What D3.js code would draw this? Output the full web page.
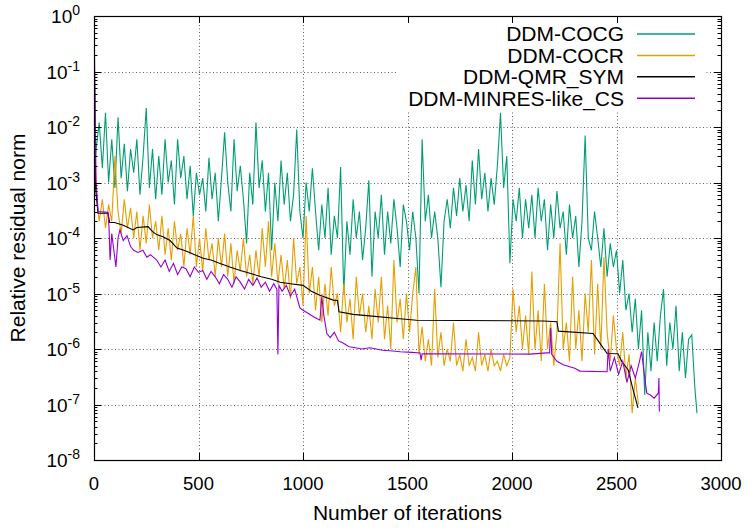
<!DOCTYPE html>
<html>
<head>
<meta charset="utf-8">
<script src="https://cdn.jsdelivr.net/npm/d3@7"></script>
<style>
  body { margin: 0; background: #fff; }
  text { font-family: "Liberation Sans", Arial, Helvetica, sans-serif; fill: #000; }
</style>
</head>
<body>
<div id="chart"></div>
<script>
// ---- data ----
const seriesNames = ["DDM-COCG", "DDM-COCR", "DDM-QMR_SYM", "DDM-MINRES-like_CS"];
const seriesColors = ["#009e73", "#e69f00", "#000000", "#9400d3"];

const xTicks = [0, 500, 1000, 1500, 2000, 2500, 3000];
const yExponents = [0, -1, -2, -3, -4, -5, -6, -7, -8];

// COCG: first iterations, then samples every 15 iterations starting at 10
const cocgHead = [[0, 0.8], [4, 2e-2], [8, 3e-3]];
const cocgStart = 10, cocgStep = 15;
const cocgVals = [
  4e-3, 1.2e-2, 1.8e-3, 1.8e-2, 1e-3, 6e-3, 8e-4, 1.5e-2, 1.2e-3, 5e-3,
  7e-4, 4e-3, 1.5e-3, 6e-3, 6e-4, 3e-3, 2.2e-2, 8e-4, 4e-3, 5e-4,
  3e-3, 6e-4, 6e-3, 1e-3, 2.5e-3, 4e-4, 6e-3, 1.2e-3, 3e-3, 5e-4,
  2e-3, 2.5e-4, 1.5e-3, 6e-4, 1.2e-3, 3e-4, 2.8e-3, 5e-4, 1.5e-3, 2e-4,
  1.2e-3, 8e-3, 1e-3, 3e-4, 6e-3, 7e-4, 2e-3, 5e-4, 8e-5, 1.5e-3,
  4e-4, 1.2e-2, 8e-4, 2.5e-3, 3e-4, 1.5e-3, 6e-5, 1e-3, 2e-4, 2.5e-3,
  4e-4, 1.5e-3, 2e-4, 6e-4, 9e-3, 3e-4, 1e-4, 1e-3, 3e-4, 1.8e-3,
  3e-4, 6e-5, 4e-4, 1e-4, 8e-4, 5e-5, 2.5e-4, 1e-4, 1.9e-3, 1e-5,
  2e-4, 5e-5, 5e-4, 1e-4, 3e-4, 4e-5, 1.5e-4, 1.1e-3, 2e-5, 3e-4,
  1e-4, 6e-4, 5e-5, 3e-4, 8e-5, 5e-4, 1.5e-4, 3e-5, 4e-4, 2e-4,
  6e-5, 3e-4, 1e-4, 1e-5, 6e-3, 2e-4, 6e-4, 1e-4, 3e-4, 1e-4,
  1.3e-5, 2e-4, 5e-4, 1.5e-4, 8e-4, 2.5e-4, 1.2e-3, 3e-4, 9e-4, 2e-4,
  2.5e-3, 4e-4, 4e-3, 5e-4, 1.5e-3, 3e-4, 1.2e-3, 4e-4, 2e-3, 1.8e-2,
  8e-4, 3e-3, 3.5e-5, 5e-4, 2e-4, 8e-4, 1e-4, 5e-4, 1.5e-4, 6e-4,
  1e-4, 8e-4, 2e-4, 5e-4, 6e-5, 4e-4, 1e-4, 7e-4, 1.5e-4, 3e-4,
  5e-5, 4e-4, 1e-4, 2.5e-4, 3e-5, 2e-4, 7e-3, 1e-4, 6e-5, 3e-4,
  1e-4, 3e-5, 1.5e-4, 2e-5, 8e-5, 3e-5, 6e-5, 1e-5, 4e-5, 5e-6,
  1e-5, 2e-6, 8e-6, 1e-6, 5e-6, 1.5e-7, 2e-6, 4e-7, 3e-6, 6e-7,
  4e-6, 1.2e-5, 5e-7, 3e-6, 1e-6, 6e-6, 4e-7, 2e-6, 3e-7, 1.5e-6,
  1.8e-6, 2e-7
];
const cocgTail = [[2885, 7e-8]];

// COCR: same sampling
const cocrHead = [[0, 1], [3, 5e-2], [6, 2e-3]];
const cocrStart = 10, cocrStep = 15;
const cocrVals = [
  6e-4, 2e-4, 5e-4, 1.5e-4, 4e-4, 2e-4, 3e-3, 3e-4, 1.2e-4, 5e-4,
  1.5e-4, 3.5e-4, 1e-4, 3e-4, 6e-5, 2.5e-4, 8e-5, 4e-4, 1e-4, 2e-4,
  6e-5, 2.5e-4, 5e-5, 1.5e-4, 4e-5, 2e-4, 6e-5, 1.2e-4, 3e-5, 1.5e-4,
  5e-5, 2.5e-4, 3e-5, 1e-4, 2.5e-5, 1.5e-4, 4e-5, 8e-5, 2e-5, 1e-4,
  3e-5, 1.2e-4, 2e-5, 8e-5, 1.5e-5, 6e-5, 2.5e-5, 1e-4, 2e-5, 5e-5,
  1.5e-5, 6e-5, 2e-5, 1.5e-4, 3e-5, 2e-4, 2e-5, 8e-5, 1.5e-5, 5e-5,
  1.2e-5, 4e-5, 8e-6, 1e-4, 1.5e-5, 3e-5, 6e-6, 2.5e-4, 1e-5, 3e-5,
  5e-6, 2e-5, 3e-6, 1.5e-5, 4e-6, 3e-5, 6e-6, 1e-5, 2e-6, 1.5e-5,
  3e-6, 8e-6, 1.5e-6, 2e-5, 4e-6, 1e-5, 2e-6, 6e-6, 1.5e-6, 1.2e-5,
  3e-6, 2e-5, 1.5e-6, 6e-6, 1e-6, 4e-5, 3e-6, 8e-6, 1.5e-6, 1e-5,
  2e-6, 1e-5, 3e-5, 8e-7, 2.5e-6, 6e-7, 1.5e-6, 5e-7, 1.2e-5, 7e-7,
  2e-6, 5e-7, 1e-6, 6e-7, 3e-6, 5e-7, 8e-7, 4e-7, 1.5e-6, 5e-7,
  7e-7, 4e-7, 2e-6, 5e-7, 8e-7, 4e-7, 1e-6, 5e-7, 6e-7, 4e-7,
  8e-7, 5e-7, 7e-7, 1.2e-5, 2e-6, 6e-6, 1e-6, 4e-6, 8e-7, 2.5e-5,
  1e-6, 5e-6, 6e-7, 1.5e-5, 1e-6, 3e-6, 5e-7, 2e-6, 8e-5, 1e-6,
  3e-6, 6e-7, 2e-5, 1e-6, 5e-6, 6e-7, 1e-5, 2e-6, 4e-5, 8e-7,
  1.5e-5, 1e-6, 4.5e-5, 2e-6, 6e-7, 4e-6, 1e-6, 5e-7, 2e-6, 3e-7,
  8e-7, 7e-8, 3e-7, 1e-7
];

// QMR_SYM: [iteration, residual], monotone staircase
const qmrPoints = [
  [0, 1], [4, 1e-2], [8, 8e-4], [19, 2.8e-4], [67, 2.8e-4], [75, 1.9e-4], [98, 1.9e-4],
  [140, 1.7e-4], [187, 1.4e-4], [205, 1.55e-4], [259, 1.6e-4], [280, 1.3e-4], [300, 1.15e-4],
  [330, 1.05e-4], [364, 9e-5], [397, 6.6e-5], [430, 6e-5], [460, 5.4e-5], [522, 4.3e-5],
  [560, 4e-5], [600, 3.5e-5], [650, 3e-5], [700, 2.6e-5], [750, 2.3e-5], [800, 2e-5],
  [850, 1.8e-5], [890, 1.6e-5], [940, 1.5e-5], [1000, 1.4e-5], [1040, 1.1e-5], [1081, 9.3e-6],
  [1145, 7.6e-6], [1165, 7.5e-6], [1172, 4.7e-6], [1240, 4.2e-6], [1305, 4e-6], [1464, 3.5e-6],
  [1544, 3.3e-6], [2150, 3.2e-6], [2215, 3.1e-6], [2222, 2.1e-6], [2388, 1.9e-6],
  [2421, 1.26e-6], [2455, 8.3e-7], [2507, 8.2e-7], [2526, 5.9e-7], [2556, 4.2e-7],
  [2580, 1.8e-7], [2603, 8.7e-8]
];

// MINRES-like_CS: [iteration, residual]
const minresPoints = [
  [0, 1], [5, 3e-2], [10, 1e-3], [20, 3e-4], [67, 2.9e-4], [72, 1.5e-4], [77, 4e-5],
  [85, 1.2e-4], [95, 6e-5], [105, 3e-5], [115, 1e-4], [124, 1.4e-4], [140, 9e-5],
  [158, 1.1e-4], [175, 7e-5], [190, 6e-5], [210, 5.5e-5], [234, 6e-5], [253, 4.5e-5],
  [270, 5e-5], [300, 4e-5], [320, 3e-5], [340, 4e-5], [360, 2.5e-5], [380, 3.5e-5],
  [400, 2.2e-5], [420, 3e-5], [440, 2.8e-5], [460, 2e-5], [480, 3e-5], [500, 2.4e-5],
  [520, 2.6e-5], [540, 1.8e-5], [560, 2.5e-5], [580, 2e-5], [600, 1.5e-5], [620, 2.2e-5],
  [640, 1.8e-5], [660, 1.3e-5], [680, 2e-5], [700, 1.6e-5], [720, 1.2e-5], [740, 1.8e-5],
  [760, 1.4e-5], [780, 1.9e-5], [800, 1.3e-5], [820, 1.6e-5], [840, 1.1e-5], [860, 1.5e-5],
  [875, 1.2e-5], [880, 8e-7], [885, 1.4e-5], [900, 1.1e-5], [920, 1.4e-5], [940, 9e-6],
  [960, 1.2e-5], [985, 5.5e-6], [1000, 5e-6], [1020, 4.5e-6], [1050, 3.8e-6], [1081, 3.3e-6],
  [1090, 8.7e-6], [1100, 4e-6], [1114, 1.9e-6], [1130, 1.6e-6], [1150, 2e-6], [1170, 1.4e-6],
  [1190, 1.3e-6], [1220, 1.1e-6], [1250, 1.05e-6], [1280, 1e-6], [1320, 1.05e-6],
  [1380, 9.5e-7], [1430, 9.2e-7], [1465, 8.9e-7], [1520, 8.7e-7], [1560, 8.5e-7],
  [1565, 6.3e-7], [1570, 8.2e-7], [2086, 8.1e-7], [2165, 8.5e-7], [2180, 8.5e-7],
  [2185, 2.4e-6], [2190, 8e-7], [2215, 6e-7], [2245, 5.2e-7], [2300, 4.5e-7], [2325, 4e-7],
  [2455, 3.9e-7], [2460, 1e-6], [2470, 4e-7], [2490, 7e-7], [2510, 3.5e-7], [2530, 6e-7],
  [2550, 2.5e-7], [2570, 5e-7], [2590, 3e-7], [2610, 6e-7], [2620, 9e-7], [2635, 3e-7],
  [2645, 1.6e-7], [2660, 1.5e-7], [2680, 1.3e-7], [2700, 1.6e-7], [2703, 3e-7], [2705, 7.5e-8]
];

// ---- assemble series ----
function sampled(head, start, step, vals, tail) {
  return head.concat(vals.map((v, i) => [start + i * step, v]), tail || []);
}
const series = [
  sampled(cocgHead, cocgStart, cocgStep, cocgVals, cocgTail),
  sampled(cocrHead, cocrStart, cocrStep, cocrVals),
  qmrPoints,
  minresPoints
];

// ---- layout ----
const W = 747, H = 529;
const plot = { left: 94, right: 721, top: 16, bottom: 460 };

const svg = d3.select("#chart").append("svg")
  .attr("width", W).attr("height", H);

const x = d3.scaleLinear().domain([0, 3000]).range([plot.left, plot.right]);
const y = d3.scaleLog().domain([1e-8, 1]).range([plot.bottom, plot.top]);

// grid
const grid = svg.append("g").attr("stroke", "#606060").attr("stroke-width", 1)
  .attr("stroke-dasharray", "1,2.5");
xTicks.slice(1, -1).forEach(t => {
  grid.append("line")
    .attr("x1", Math.round(x(t)) + 0.5).attr("x2", Math.round(x(t)) + 0.5)
    .attr("y1", plot.bottom).attr("y2", plot.top);
});
yExponents.slice(1, -1).forEach(e => {
  grid.append("line")
    .attr("y1", Math.round(y(Math.pow(10, e))) + 0.5).attr("y2", Math.round(y(Math.pow(10, e))) + 0.5)
    .attr("x1", plot.left).attr("x2", plot.right);
});

// data lines
svg.append("clipPath").attr("id", "clip").append("rect")
  .attr("x", plot.left).attr("y", plot.top)
  .attr("width", plot.right - plot.left).attr("height", plot.bottom - plot.top);

const line = d3.line().x(d => x(d[0])).y(d => y(d[1]));
const dataG = svg.append("g").attr("clip-path", "url(#clip)");
series.forEach((s, i) => {
  dataG.append("path")
    .datum(s)
    .attr("d", line)
    .attr("fill", "none")
    .attr("stroke", seriesColors[i])
    .attr("stroke-width", 1.1)
    .attr("stroke-linejoin", "miter");
});

// key (opaque box)
const key = svg.append("g");
key.append("rect")
  .attr("x", 396).attr("y", plot.top + 1)
  .attr("width", 308).attr("height", 93)
  .attr("fill", "#fff");
seriesNames.forEach((name, i) => {
  const ky = 34 + i * 21.4;
  key.append("text")
    .attr("x", 624).attr("y", ky)
    .attr("dy", "0.35em")
    .attr("text-anchor", "end")
    .style("font-size", "21px")
    .text(name);
  key.append("line")
    .attr("x1", 637).attr("x2", 695)
    .attr("y1", ky).attr("y2", ky)
    .attr("stroke", seriesColors[i])
    .attr("stroke-width", 1.5);
});

// border
svg.append("rect")
  .attr("x", plot.left + 0.5).attr("y", plot.top + 0.5)
  .attr("width", plot.right - plot.left).attr("height", plot.bottom - plot.top)
  .attr("fill", "none").attr("stroke", "#000").attr("stroke-width", 1.2);

// x ticks (bottom and top, inward)
const ticks = svg.append("g").attr("stroke", "#000").attr("stroke-width", 1);
xTicks.forEach(t => {
  const xx = Math.round(x(t)) + 0.5;
  ticks.append("line").attr("x1", xx).attr("x2", xx).attr("y1", plot.bottom).attr("y2", plot.bottom - 7);
  ticks.append("line").attr("x1", xx).attr("x2", xx).attr("y1", plot.top).attr("y2", plot.top + 7);
  svg.append("text")
    .attr("x", x(t)).attr("y", 490)
    .attr("text-anchor", "middle")
    .style("font-size", "18.5px")
    .text(t);
});

// y ticks (major + minor on both sides)
yExponents.forEach(e => {
  const base = Math.pow(10, e);
  const yy = Math.round(y(base)) + 0.5;
  ticks.append("line").attr("x1", plot.left).attr("x2", plot.left + 7).attr("y1", yy).attr("y2", yy);
  ticks.append("line").attr("x1", plot.right).attr("x2", plot.right - 7).attr("y1", yy).attr("y2", yy);
  if (e > -8) {
    d3.range(2, 10).forEach(m => {
      const ym = Math.round(y(base * m / 10)) + 0.5;
      ticks.append("line").attr("x1", plot.left).attr("x2", plot.left + 3.5).attr("y1", ym).attr("y2", ym);
      ticks.append("line").attr("x1", plot.right).attr("x2", plot.right - 3.5).attr("y1", ym).attr("y2", ym);
    });
  }
  const lab = svg.append("text")
    .attr("x", 80).attr("y", y(base) + 7)
    .attr("text-anchor", "end")
    .style("font-size", "19px");
  lab.append("tspan").text("10");
  lab.append("tspan").attr("dy", -8).style("font-size", "14px").text(e);
});

// axis titles
svg.append("text")
  .attr("x", (plot.left + plot.right) / 2).attr("y", 520)
  .attr("text-anchor", "middle")
  .style("font-size", "21px")
  .text("Number of iterations");

svg.append("text")
  .attr("transform", `translate(25,${(plot.top + plot.bottom) / 2}) rotate(-90)`)
  .attr("text-anchor", "middle")
  .style("font-size", "21px")
  .text("Relative residual norm");
</script>
</body>
</html>
